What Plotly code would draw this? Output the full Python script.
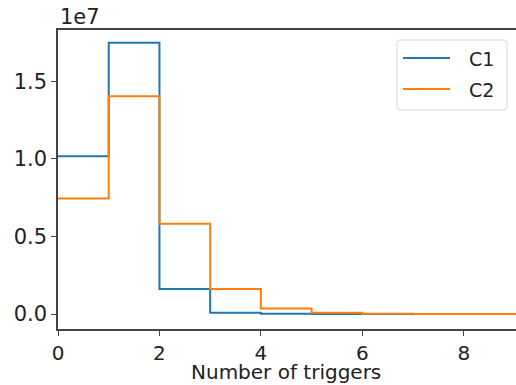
import plotly.graph_objects as go

# Histogram bin edges and per-bin counts for the two channels
bin_edges = [0, 1, 2, 3, 4, 5, 6, 7, 8, 9, 10]
c1_counts = [10180000, 17500000, 1610000, 90000, 20000, 5000, 2000, 1000, 500, 200]
c2_counts = [7450000, 14050000, 5820000, 1610000, 360000, 80000, 15000, 5000, 2000, 1000]
series_names = ["C1", "C2"]
series_colors = ["#1f77b4", "#ff7f0e"]

y_tick_vals = [0, 5e6, 1e7, 1.5e7]
y_tick_text = ["0.0", "0.5", "1.0", "1.5"]
x_tick_vals = [0, 2, 4, 6, 8]
x_title = "Number of triggers"

# Figure geometry (pixels)
W, H = 516, 385
L, R, T, B = 58, 0, 30, 56
PW, PH = W - L - R, H - T - B


def step_outline(edges, counts):
    """Outline of a step histogram: runs across each bin and drops back to
    the baseline at the last edge."""
    xs = list(edges[:-1]) + [edges[-1], edges[-1]]
    ys = list(counts) + [counts[-1], 0]
    return xs, ys


def px_to_paper(px, py):
    return (px - L) / PW, (H - B - py) / PH


fig = go.Figure()
for name, counts, color in zip(series_names, [c1_counts, c2_counts], series_colors):
    xs, ys = step_outline(bin_edges, counts)
    fig.add_trace(go.Scatter(
        x=xs, y=ys, mode="lines", name=name, showlegend=False,
        line=dict(color=color, width=2, shape="hv"),
    ))

# Legend box with rounded corners, drawn in plot-paper coordinates
bx0, by0, bx1, by1, rad = 397, 40, 507, 110, 4


def P(px, py):
    x, y = px_to_paper(px, py)
    return f"{x:.5f},{y:.5f}"


path = (
    f"M {P(bx0 + rad, by0)} L {P(bx1 - rad, by0)} Q {P(bx1, by0)} {P(bx1, by0 + rad)} "
    f"L {P(bx1, by1 - rad)} Q {P(bx1, by1)} {P(bx1 - rad, by1)} "
    f"L {P(bx0 + rad, by1)} Q {P(bx0, by1)} {P(bx0, by1 - rad)} "
    f"L {P(bx0, by0 + rad)} Q {P(bx0, by0)} {P(bx0 + rad, by0)} Z"
)
shapes = [dict(type="path", xref="paper", yref="paper", path=path,
               fillcolor="rgba(255,255,255,0.8)", line=dict(color="#d5d5d5", width=1))]

annotations = [dict(
    text="1e7", xref="paper", yref="paper", x=0, y=1,
    xanchor="left", yanchor="bottom", showarrow=False,
    font=dict(size=21), yshift=-1,
)]

# x-axis title placed at a fixed position below the tick labels
tx, ty = px_to_paper(286, 359)
annotations.append(dict(text=x_title, xref="paper", yref="paper", x=tx, y=ty,
                        xanchor="center", yanchor="top", showarrow=False,
                        font=dict(size=20), borderpad=0))

legend_rows_y = [58, 89]
for name, color, ly in zip(series_names, series_colors, legend_rows_y):
    x0, y0 = px_to_paper(403, ly)
    x1, _ = px_to_paper(450, ly)
    shapes.append(dict(type="line", xref="paper", yref="paper",
                       x0=x0, x1=x1, y0=y0, y1=y0,
                       line=dict(color=color, width=2)))
    lx, lyp = px_to_paper(467, ly + 1)
    annotations.append(dict(text=name, xref="paper", yref="paper", x=lx, y=lyp,
                            xanchor="left", yanchor="middle", showarrow=False,
                            font=dict(size=19)))

fig.update_layout(
    width=W, height=H,
    margin=dict(l=L, r=R, t=T, b=B, autoexpand=False),
    paper_bgcolor="white", plot_bgcolor="white",
    font=dict(family="DejaVu Sans", size=21, color="#222"),
    showlegend=False,
    xaxis=dict(
        range=[0, 9.03], tickvals=x_tick_vals,
        showgrid=False, zeroline=False, automargin=False,
        showline=True, linecolor="#444", linewidth=1.5, mirror=True,
        ticks="outside", ticklen=5, tickcolor="#444", tickwidth=1.2,
        tickfont=dict(size=20),
    ),
    yaxis=dict(
        range=[-0.0966e7, 1.832e7], tickvals=y_tick_vals, ticktext=y_tick_text,
        showgrid=False, zeroline=False, automargin=False,
        showline=True, linecolor="#444", linewidth=1.5,
        ticks="outside", ticklen=5, tickcolor="#444", tickwidth=1.2,
        tickfont=dict(size=21),
    ),
    shapes=shapes,
    annotations=annotations,
)

fig.write_html("out.html")
